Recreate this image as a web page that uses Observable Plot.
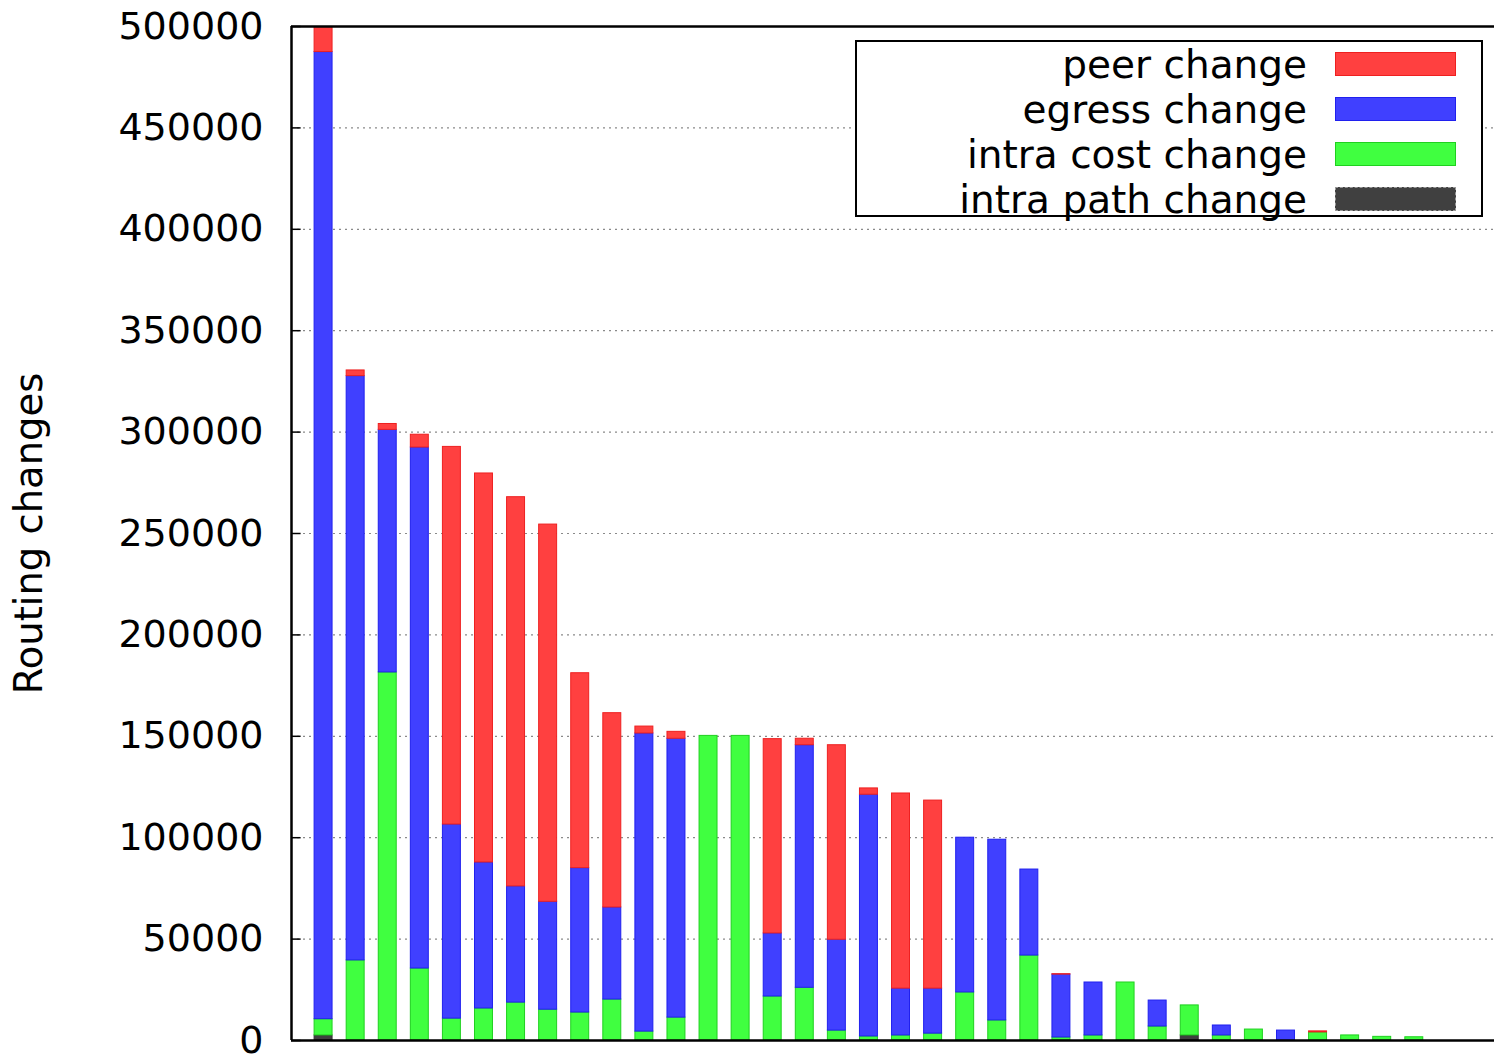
<!DOCTYPE html>
<html>
<head>
<meta charset="utf-8">
<script src="https://cdn.jsdelivr.net/npm/d3@7"></script>
<script src="https://cdn.jsdelivr.net/npm/@observablehq/plot@0.6"></script>
<style>
  html, body { margin: 0; padding: 0; background: #fff; }
  #wrap { position: relative; width: 1494px; height: 1055px; overflow: hidden; }
  #legend { position: absolute; left: 855px; top: 40px; width: 624px; height: 173px;
    border: 2px solid #000; background: #fff; font-family: "DejaVu Sans", sans-serif; font-size: 39px; }
  .row { position: absolute; left: 0; height: 45px; width: 624px; }
  .lab { position: absolute; right: 174px; top: 0; line-height: 45px; white-space: nowrap; color: #000; }
  .sw { position: absolute; left: 478px; top: 10px; width: 121px; height: 24px; box-sizing: border-box; }
</style>
</head>
<body>
<div id="wrap">
  <div id="chart"></div>
  <div id="legend"></div>
</div>
<script>
// Values (segment sizes, bottom to top)
const intraPath = [2500,0,0,0,0,0,0,0,0,0,0,0,0,0,0,0,0,0,0,0,0,0,0,0,0,0,0,2500,0,0,0,0,0,0,0];
const intraCost = [8000,39500,181500,35500,10800,15800,18700,15200,13800,20200,4400,11300,150200,150200,21700,26000,4900,2000,2500,3400,23700,9900,41900,1500,2500,28600,6900,14800,2500,5400,0,4000,2500,1800,1600];
const egress    = [476900,288100,119600,256900,95700,72000,57300,53200,71200,45400,147000,137500,0,0,31100,119600,44800,119200,23100,22200,76300,89100,42400,31000,26100,0,12800,0,4900,0,4900,0,0,0,0];
const peer      = [12700,2800,2900,6300,186200,191800,191900,186000,96100,95800,3400,3400,0,0,95800,3200,95900,3100,96200,92700,0,0,0,200,0,0,0,0,0,0,0,500,0,0,0];

const seriesNames = ["intra path change", "intra cost change", "egress change", "peer change"];
const seriesFill  = ["#404040", "#40ff40", "#4040ff", "#ff4040"];
const seriesStroke= ["#303030", "#20d020", "#2020ee", "#ee2020"];
const yTicks = [0,50000,100000,150000,200000,250000,300000,350000,400000,450000,500000];
const yLabel = "Routing changes";

const series = [intraPath, intraCost, egress, peer];
const rows = [];
for (let i = 0; i < peer.length; i++) {
  let cum = 0;
  series.forEach((s, k) => {
    const v = s[i];
    if (v > 0) rows.push({i, k, y1: cum, y2: cum + v});
    cum += v;
  });
}
const halfW = 0.28;

const chart = Plot.plot({
  width: 1494,
  height: 1055,
  marginLeft: 291,
  marginRight: 0,
  marginTop: 26,
  marginBottom: 15,
  style: { fontFamily: "DejaVu Sans, sans-serif", background: "#fff", overflow: "visible" },
  x: { domain: [-1, 36.5], axis: null },
  y: { domain: [0, 500000], axis: null },
  marks: [
    Plot.gridY(yTicks, { stroke: "#8a8a8a", strokeOpacity: 1, strokeDasharray: "2,4", strokeWidth: 1.2 }),
    Plot.rect(rows, {
      x1: d => d.i - halfW, x2: d => d.i + halfW, y1: "y1", y2: "y2",
      fill: d => seriesFill[d.k], stroke: d => seriesStroke[d.k], strokeWidth: 1, clip: true
    }),
    Plot.ruleY(yTicks, { y: d => d, x1: -1, x2: -0.7, stroke: "#000", strokeWidth: 1.5 }),
    Plot.ruleY([0, 500000], { stroke: "#000", strokeWidth: 2.5 }),
    Plot.ruleX([-1], { stroke: "#000", strokeWidth: 2.5 }),
    Plot.axisY(yTicks, {
      tickSize: 0, tickPadding: 28, tickFormat: d => String(d),
      fontSize: 38, fontFamily: "DejaVu Sans", fill: "#000", label: null
    }),
    Plot.text([yLabel], {
      frameAnchor: "left", dx: -262, rotate: -90, text: d => d,
      fontSize: 38.5, fontFamily: "DejaVu Sans", fill: "#000", textAnchor: "middle", lineAnchor: "middle"
    })
  ]
});
document.getElementById("chart").appendChild(chart);

// Legend (top to bottom: peer, egress, intra cost, intra path)
const legend = document.getElementById("legend");
[3, 2, 1, 0].forEach((k, r) => {
  const row = document.createElement("div");
  row.className = "row";
  row.style.top = (r * 45) + "px";
  const lab = document.createElement("div");
  lab.className = "lab";
  lab.textContent = seriesNames[k];
  const sw = document.createElement("div");
  sw.className = "sw";
  sw.style.background = seriesFill[k];
  sw.style.border = k === 0 ? "1.5px dashed #999" : "1px solid " + seriesStroke[k];
  row.appendChild(lab);
  row.appendChild(sw);
  legend.appendChild(row);
});
</script>
</body>
</html>
